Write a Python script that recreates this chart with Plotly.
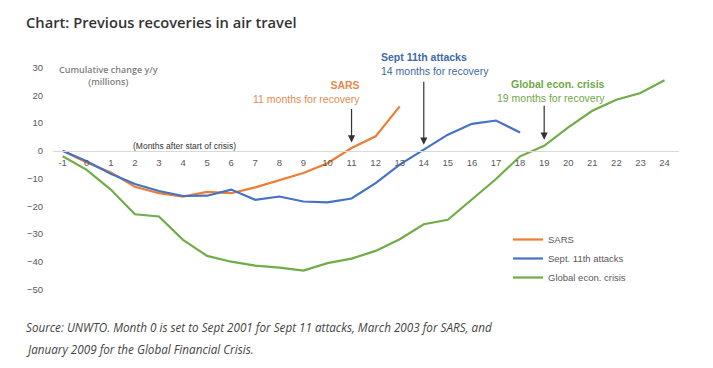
import plotly.graph_objects as go

months = list(range(-1, 25))
sars = [0, -4.2, -7.8, -13.0, -15.3, -16.5, -14.8, -15.3, -13.2, -10.5, -8.0, -4.5, 1.0, 5.2, 16.0]
sept11 = [0, -3.8, -8.3, -12.0, -14.5, -16.3, -16.2, -14.0, -17.7, -16.5, -18.3, -18.6, -17.2, -11.7, -5.0, 0.4, 5.8, 9.7, 10.9, 6.6]
gec = [-2.0, -6.9, -14.0, -22.9, -23.7, -32.1, -37.9, -40.0, -41.4, -42.1, -43.2, -40.5, -38.9, -36.1, -31.9, -26.5, -24.9, -17.4, -10.2, -2.0, 1.8, 8.4, 14.4, 18.4, 20.8, 25.4]
y_ticks = [30, 20, 10, 0, -10, -20, -30, -40, -50]
x_ticks = months

series_names = ["SARS", "Sept. 11th attacks", "Global econ. crisis"]
colors = ["#ED7D31", "#4472C4", "#70AD47"]

OFF = 8  # page offset of the figure inside the window
W_FIG, H_FIG = 713 - OFF, 368 - OFF
# plot area in window pixels
PL, PR, PT, PB = 53, 679, 62, 295
L, T = PL - OFF, PT - OFF
R = W_FIG - (PR - OFF)
B = H_FIG - (PB - OFF)
PW = PR - PL
PH = PB - PT
X_RANGE = [-1.4, 24.6]
Y_RANGE = [-52, 32]

def px(xp):
    return (xp - PL) / PW

def py(yp):
    return 1 - (yp - PT) / PH

fig = go.Figure()
for name, vals, col in zip(series_names, [sars, sept11, gec], colors):
    fig.add_trace(go.Scatter(
        x=months[:len(vals)], y=vals, mode="lines", name=name,
        line=dict(color=col, width=2.2), hoverinfo="skip"))

zero_pos = (0 - Y_RANGE[0]) / (Y_RANGE[1] - Y_RANGE[0])

fig.update_layout(
    width=W_FIG, height=H_FIG,
    margin=dict(l=L, r=R, t=T, b=B, pad=0),
    paper_bgcolor="white", plot_bgcolor="white",
    showlegend=True,
    legend=dict(x=px(508), y=py(225), xanchor="left", yanchor="top",
                font=dict(family="Liberation Sans, Arial", size=9.5, color="#595959"),
                bgcolor="rgba(0,0,0,0)", tracegroupgap=0, itemwidth=30),
    xaxis=dict(range=X_RANGE, tickvals=x_ticks, ticktext=[str(m) for m in x_ticks],
               showgrid=False, zeroline=False, showline=True, linecolor="#d9d9d9", linewidth=1,
               anchor="free", position=zero_pos, ticks="", ticklabelstandoff=3,
               tickfont=dict(family="Liberation Sans, Arial", size=9.5, color="#595959")),
    yaxis=dict(range=Y_RANGE, tickvals=y_ticks, showgrid=False, zeroline=False, showline=False,
               ticks="", ticklabelstandoff=9,
               tickfont=dict(family="Liberation Sans, Arial", size=9.5, color="#595959")),
)

ann = []
# Title
ann.append(dict(text="Chart: Previous recoveries in air travel", xref="paper", yref="paper",
                x=px(24), y=py(22), xanchor="left", yanchor="middle", showarrow=False,
                font=dict(family="Open Sans", size=14.7, color="#333333", weight=600)))
# Axis label
ann.append(dict(text="Cumulative change y/y<br>(millions)", xref="paper", yref="paper",
                x=px(108), y=py(75), xanchor="center", yanchor="middle", showarrow=False,
                font=dict(family="Open Sans", size=9, color="#808080", weight=600)))
ann.append(dict(text="(Months after start of crisis)", xref="paper", yref="paper",
                x=px(184), y=py(146), xanchor="center", yanchor="middle", showarrow=False,
                font=dict(family="Liberation Sans, Arial", size=8.5, color="#333333")))
# Recovery labels (paper coords so they are never hidden)
lab_font = "Liberation Sans, Arial"
ann.append(dict(text="<b>SARS</b><br>11 months for recovery", xref="paper", yref="paper",
                x=px(362), y=py(92), xanchor="right", yanchor="middle", align="right",
                showarrow=False, font=dict(family=lab_font, size=10.5, color="#E38A4E")))
ann.append(dict(text="<b>Sept 11th attacks</b><br>14 months for recovery", xref="paper", yref="paper",
                x=px(379), y=py(64), xanchor="left", yanchor="middle", align="left",
                showarrow=False, font=dict(family=lab_font, size=10.5, color="#3E68A8")))
ann.append(dict(text="<b>Global econ. crisis</b><br>19 months for recovery", xref="paper", yref="paper",
                x=px(607), y=py(91), xanchor="right", yanchor="middle", align="right",
                showarrow=False, font=dict(family=lab_font, size=10.5, color="#6FA84A")))
# Arrows
for xm, yh, yt in [(11, 3.0, 15.6), (14, 2.2, 25.4), (19, 4.0, 16.8)]:
    ann.append(dict(x=xm, y=yh, ax=xm, ay=yt, xref="x", yref="y", axref="x", ayref="y",
                    showarrow=True, arrowhead=2, arrowsize=1.2, arrowwidth=1.2,
                    arrowcolor="#333333", text=""))
# Caption
ann.append(dict(text="<i>Source: UNWTO. Month 0 is set to Sept 2001 for Sept 11 attacks, March 2003 for SARS, and</i>",
                xref="paper", yref="paper", x=px(24), y=py(327), xanchor="left", yanchor="middle",
                showarrow=False, font=dict(family="Open Sans", size=11.7, color="#444444")))
ann.append(dict(text="<i>January 2009 for the Global Financial Crisis.</i>",
                xref="paper", yref="paper", x=px(24), y=py(349), xanchor="left", yanchor="middle",
                showarrow=False, font=dict(family="Open Sans", size=11.7, color="#444444")))
fig.update_layout(annotations=ann)

fig.write_html("out.html")
